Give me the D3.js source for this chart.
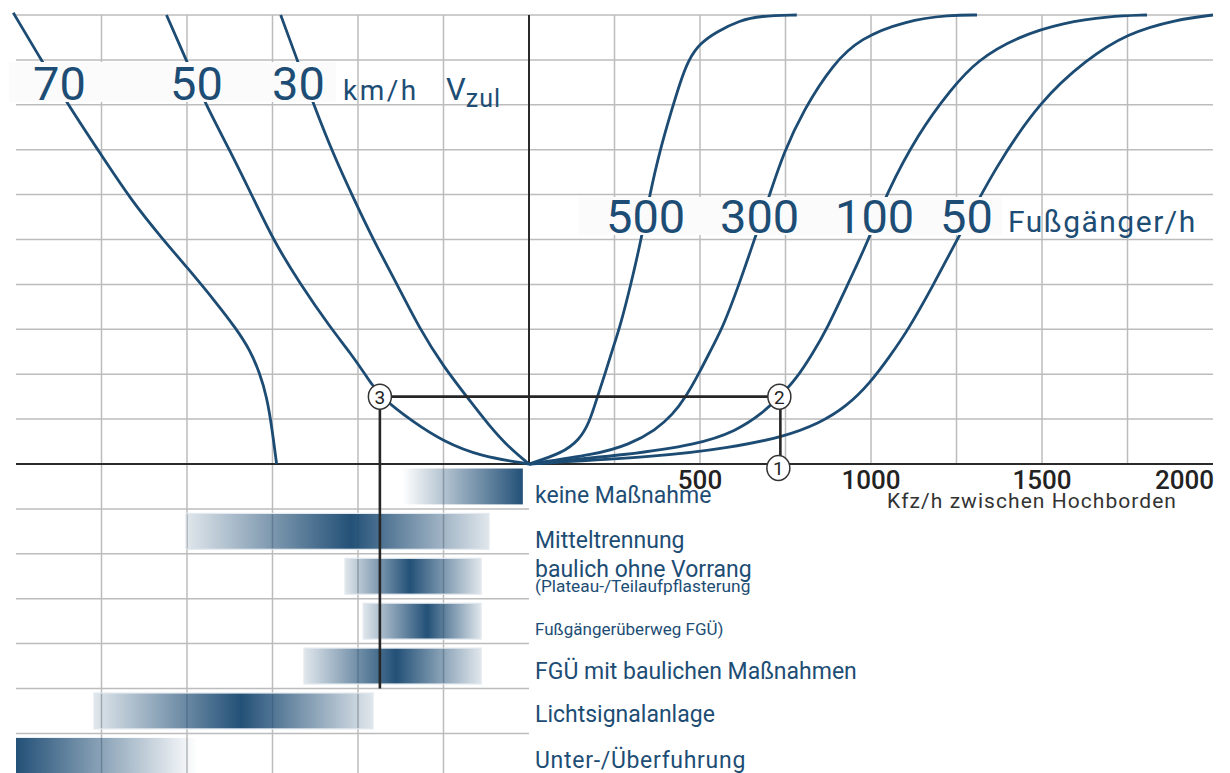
<!DOCTYPE html>
<html><head><meta charset="utf-8">
<script src="https://cdn.jsdelivr.net/npm/d3@7"></script>
<style>body{margin:0;background:#fff}svg{display:block}</style>
</head><body><svg id="c" width="1230" height="773"></svg>
<script>
// ---------- data ----------
const kfzTicks = [500, 1000, 1500, 2000];
const gridX = [-1250, -1000, -750, -500, -250, 250, 500, 750, 1000, 1250, 1500, 1750];
const gridYTop = [1, 2, 3, 4, 5, 6, 7, 8, 9, 10];
const gridYRows = [-1, -2, -3, -4, -5, -6, -7];

const pedLabels = ["500", "300", "100", "50"];
const speedLabels = ["70", "50", "30"];

// pedestrian curves: [Kfz/h, level]
const ped500 = [[0,0],[98,0.245],[147,0.54],[176,0.91],[200,1.5],[222,2.0],[244,2.55],[266,3.05],[298,4.0],[328,5.0],[354,6.03],[383,6.99],[417,7.88],[442,8.5],[466,9.0],[500,9.37],[549,9.63],[617,9.88],[675,9.98],[783,10]];
const ped300 = [[0,0],[195,0.21],[293,0.43],[371,0.76],[420,1.1],[459,1.5],[498,2.03],[537,2.62],[567,3.05],[612,3.95],[657,4.95],[705,6.03],[744,6.92],[802,7.88],[890,8.92],[968,9.48],[1099,9.87],[1231,10],[1310,10]];
const ped100 = [[0,0],[293,0.21],[489,0.43],[606,0.73],[684,1.14],[733,1.5],[782,1.9],[830,2.47],[870,2.99],[932,4.0],[993,4.99],[1046,6.04],[1139,7.37],[1232,8.33],[1311,9.0],[1430,9.52],[1563,9.83],[1695,9.97],[1807,10]];
const ped50 = [[0,0],[391,0.17],[586,0.36],[743,0.6],[850,0.91],[928,1.28],[997,1.8],[1055,2.4],[1109,2.99],[1183,4.0],[1252,4.99],[1364,6.62],[1496,8.1],[1629,9.0],[1748,9.59],[1894,9.9],[2000,10]];

// speed curves (left quadrant): [left units, level]
const v30 = [[0,0],[-56,0.35],[-114,0.83],[-182,1.5],[-250,2.17],[-319,3.0],[-387,4.02],[-455,4.99],[-515,5.95],[-575,6.95],[-628,7.98],[-677,8.98],[-726,10]];
const v50 = [[0,0],[-143,0.17],[-250,0.5],[-338,0.93],[-436,1.5],[-475,1.95],[-520,2.45],[-582,3.05],[-670,4.02],[-748,4.99],[-808,5.95],[-875,6.99],[-945,8.0],[-1000,8.96],[-1060,10]];
const v70 = [[-738,0],[-752,0.83],[-767,1.5],[-787,2.02],[-816,2.54],[-855,3.0],[-913,3.58],[-1001,4.39],[-1069,4.99],[-1164,5.88],[-1260,6.99],[-1350,8.03],[-1426,9.0],[-1508,10.05]];

// example reading path: 1 -> 2 -> 3 -> measure
const exKfz = 735;
const exLevel = 1.5;
const exLeft = -436;
const exRow = -5;

// measures (rows below axis)
const measures = ["keine Maßnahme", "Mitteltrennung", "baulich ohne Vorrang", "Fußgängerüberweg FGÜ)", "FGÜ mit baulichen Maßnahmen", "Lichtsignalanlage", "Unter-/Überfuhrung"];
const measureSub = ["(Plateau-/Teilaufpflasterung"];
const barFrom = [-370, -1003, -538, -485, -658, -1272, -1500];
const barPeak = [-18, -520, -348, -298, -389, -842, -1500];
const barTo = [-18, -117, -140, -140, -140, -456, -970];

// ---------- drawing ----------
const svg = d3.select("#c");
const x = d3.scaleLinear().domain([-1500, 2000]).range([16, 1213]);
const y = d3.scaleLinear().domain([0, 10]).range([464, 15]);
const BLUE = "#1c4b73";
const TXT = "#1d4d74";
const GRID = "#bcbcbc";
const FONT = "Roboto";

const g = svg.append("g");

// grid
g.selectAll(".gx").data(gridX).join("line")
  .attr("x1", d => x(d)).attr("x2", d => x(d))
  .attr("y1", y(10)).attr("y2", d => d < 0 ? 773 : y(0))
  .attr("stroke", GRID).attr("stroke-width", 1.5);
g.selectAll(".gy").data(gridYTop).join("line")
  .attr("x1", x(-1500)).attr("x2", x(2000))
  .attr("y1", d => y(d)).attr("y2", d => y(d))
  .attr("stroke", GRID).attr("stroke-width", 1.5);
g.selectAll(".gr").data(gridYRows).join("line")
  .attr("x1", x(-1500)).attr("x2", x(0))
  .attr("y1", d => y(d)).attr("y2", d => y(d))
  .attr("stroke", GRID).attr("stroke-width", 1.5);

// bars with gradients
const defs = svg.append("defs");
measures.forEach((m, i) => {
  const span = barTo[i] - barFrom[i];
  const p = (barPeak[i] - barFrom[i]) / span;
  const gr = defs.append("linearGradient").attr("id", "gb" + i)
    .attr("x1", "0").attr("x2", "1").attr("y1", "0").attr("y2", "0");
  const lo = (i === 0 || i === 6) ? 0 : 0.14;
  gr.append("stop").attr("offset", 0).attr("stop-color", BLUE).attr("stop-opacity", p <= 0 ? 1 : lo);
  gr.append("stop").attr("offset", p).attr("stop-color", BLUE).attr("stop-opacity", 1);
  gr.append("stop").attr("offset", 1).attr("stop-color", BLUE).attr("stop-opacity", p >= 1 ? 1 : lo);
});
const rowH = y(0) - y(1);
g.selectAll(".bar").data(measures).join("rect")
  .attr("x", (d, i) => x(barFrom[i]))
  .attr("width", (d, i) => x(barTo[i]) - x(barFrom[i]))
  .attr("y", (d, i) => y(-i) + 4.5)
  .attr("height", rowH - 9)
  .attr("fill", (d, i) => `url(#gb${i})`)
  .attr("fill-opacity", 0.97)
  .attr("stroke", (d, i) => (i === 0 || i === 6) ? "none" : "#e3e9ee")
  .attr("stroke-width", 1.2);

// label boxes
g.append("rect").attr("x", 9).attr("y", 62).attr("width", 327).attr("height", 40).attr("fill", "#fbfbfb");
g.append("rect").attr("x", 579).attr("y", 197).attr("width", 423).attr("height", 38).attr("fill", "#fbfbfb");

// axes
g.append("line").attr("x1", x(-1500)).attr("x2", x(2000)).attr("y1", y(0)).attr("y2", y(0))
  .attr("stroke", "#2a2a2a").attr("stroke-width", 2);
g.append("line").attr("x1", x(0)).attr("x2", x(0)).attr("y1", y(10)).attr("y2", y(0))
  .attr("stroke", "#2a2a2a").attr("stroke-width", 2);

// curves (masked behind label boxes)
const mask = defs.append("mask").attr("id", "mk");
mask.append("rect").attr("x", 0).attr("y", 0).attr("width", 1230).attr("height", 773).attr("fill", "white");
mask.append("rect").attr("x", 9).attr("y", 62).attr("width", 327).attr("height", 40).attr("fill", "black");
mask.append("rect").attr("x", 579).attr("y", 197).attr("width", 423).attr("height", 38).attr("fill", "black");

const line = d3.line().x(d => x(d[0])).y(d => y(d[1])).curve(d3.curveBasis);
const cg = g.append("g").attr("mask", "url(#mk)");
[ped500, ped300, ped100, ped50, v30, v50, v70].forEach(c => cg.append("path").attr("d", line(c))
  .attr("fill", "none").attr("stroke", BLUE).attr("stroke-width", 2.8).attr("stroke-linecap", "butt"));

// example path
const ex = g.append("g").attr("stroke", "#262626").attr("stroke-width", 2.6).attr("fill", "none");
ex.append("line").attr("x1", x(exLeft)).attr("x2", x(exKfz)).attr("y1", y(exLevel)).attr("y2", y(exLevel));
ex.append("line").attr("x1", x(exKfz)).attr("x2", x(exKfz)).attr("y1", y(exLevel)).attr("y2", y(0));
ex.append("line").attr("x1", x(exLeft)).attr("x2", x(exLeft)).attr("y1", y(exLevel)).attr("y2", y(exRow));

const marks = [{n: "1", px: x(exKfz) - 2, py: y(0) + 4}, {n: "2", px: x(exKfz) - 1, py: y(exLevel)}, {n: "3", px: x(exLeft), py: y(exLevel)}];
const mg = g.selectAll(".mk").data(marks).join("g").attr("transform", d => `translate(${d.px},${d.py})`);
mg.append("ellipse").attr("rx", 11.5).attr("ry", 12.5).attr("fill", "#fff").attr("stroke", "#333").attr("stroke-width", 1.5);
mg.append("text").text(d => d.n).attr("text-anchor", "middle").attr("y", 7)
  .attr("font-family", FONT).attr("font-size", 19).attr("fill", "#222");

// tick labels
g.selectAll(".tk").data(kfzTicks).join("text")
  .attr("x", d => d === 2000 ? x(d) + 1 : x(d))
  .attr("y", 489)
  .attr("text-anchor", d => d === 2000 ? "end" : "middle")
  .attr("font-family", FONT).attr("font-weight", 500).attr("font-size", 26).attr("fill", "#222")
  .text(d => d);
g.append("text").attr("x", 887).attr("y", 508).attr("font-family", FONT).attr("font-size", 21)
  .attr("letter-spacing", 1.05).attr("fill", "#333").text("Kfz/h zwischen Hochborden");

// curve labels
const spX = [33, 170, 272];
g.selectAll(".sl").data(speedLabels).join("text")
  .attr("x", (d, i) => spX[i]).attr("y", 100)
  .attr("font-family", FONT).attr("font-size", 47).attr("fill", TXT).text(d => d);
g.append("text").attr("x", 343).attr("y", 100).attr("font-family", FONT).attr("font-size", 28)
  .attr("letter-spacing", 2.5).attr("fill", TXT).text("km/h");
const vz = g.append("text").attr("x", 446).attr("y", 100).attr("font-family", FONT).attr("fill", TXT);
vz.append("tspan").attr("font-size", 31).text("V");
vz.append("tspan").attr("font-size", 25).attr("dy", 7).attr("letter-spacing", 1).text("zul");

const pdX = [606, 720, 835, 940];
g.selectAll(".pl").data(pedLabels).join("text")
  .attr("x", (d, i) => pdX[i]).attr("y", 233)
  .attr("font-family", FONT).attr("font-size", 47).attr("fill", TXT).text(d => d);
g.append("text").attr("x", 1008).attr("y", 232).attr("font-family", FONT).attr("font-size", 30)
  .attr("letter-spacing", 1.5).attr("fill", TXT).text("Fußgänger/h");

// measure labels
const mBase = [503, 548, 577, 635, 679, 722, 768];
const mSize = [23, 23, 23, 17, 23, 23, 23];
const mSpace = [0, 0, 0, 0, 0, 0, 0.7];
g.selectAll(".ml").data(measures).join("text")
  .attr("x", 535).attr("y", (d, i) => mBase[i])
  .attr("font-family", FONT).attr("font-size", (d, i) => mSize[i])
  .attr("letter-spacing", (d, i) => mSpace[i]).attr("fill", TXT).text(d => d);
g.selectAll(".ms").data(measureSub).join("text")
  .attr("x", 535).attr("y", 592)
  .attr("font-family", FONT).attr("font-size", 17.3).attr("fill", TXT).text(d => d);
</script></body></html>
